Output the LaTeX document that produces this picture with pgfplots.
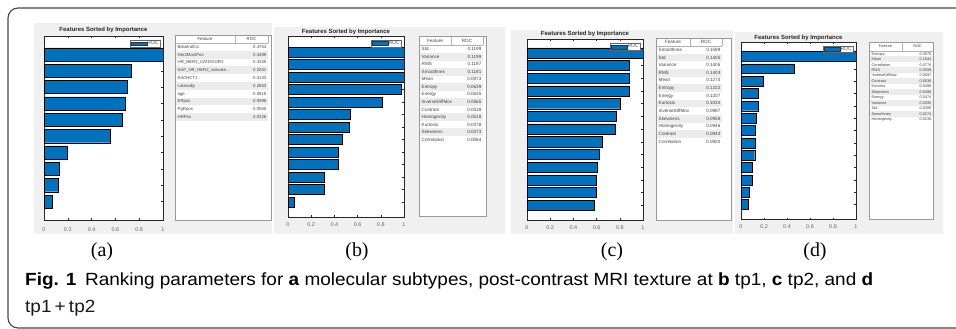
\documentclass[border=0pt]{standalone}
\usepackage{pgfplots}
\pgfplotsset{compat=1.18}
\usepackage{fontspec}
\setmainfont{Liberation Sans}
\newfontfamily\seriffont{Liberation Serif}
\definecolor{mblue}{RGB}{0,114,189}
\definecolor{bggrey}{RGB}{240,240,240}
\definecolor{rowgrey}{RGB}{236,236,236}
\definecolor{framec}{RGB}{70,70,70}
\newsavebox\capA
\newcommand\drawtable[1]{%
  \fill[white] (\tL,\tT) rectangle (\tR,\tB);
  \foreach \n/\v [count=\i] in {#1} {%
    \pgfmathsetmacro\yc{\rA+(\i-1)*\rS}
    \ifodd\i\else\fill[rowgrey] (\tL,\yc-\rS/2) rectangle (\tC,\yc+\rS/2);\fi
    \node[anchor=base west, inner sep=0, font=\tfont, text=black!75] at (\tL+2.5,\yc+1.4) {\n};
    \node[anchor=base east, inner sep=0, font=\tfont, text=black!75] at (\tC-1.5,\yc+1.4) {\v};
  }
  \draw[black!30, line width=0.4] (\tL,\tH) -- (\tC,\tH) (\tS,\tT) -- (\tS,\tH) (\tC,\tT) -- (\tC,\tH);
  \node[anchor=base, inner sep=0, font=\tfont, text=black!75] at ({(\tL+\tS)/2},{(\tT+\tH)/2+1.4}) {Feature};
  \node[anchor=base, inner sep=0, font=\tfont, text=black!75] at ({(\tS+\tC)/2},{(\tT+\tH)/2+1.4}) {ROC};
  \draw[black!40, line width=0.4] (\tL,\tT) rectangle (\tR,\tB);
}
\pgfplotsset{
  panel/.style={
    scale only axis, anchor=south west, xbar, y dir=reverse,
    xmin=0, xmax=1,
    xtick={0,0.2,0.4,0.6,0.8,1}, xticklabels={0,0.2,0.4,0.6,0.8,1},
    yticklabels={},
    tick align=inside, major tick length=1.8bp,
    axis line style={draw=black!85, line width=0.4bp},
    tick style={draw=black!85, line width=0.4bp},
    axis background/.style={fill=white},
    /pgf/number format/assume math mode=true,
    x tick label style={font=\fontsize{5.5}{6}\selectfont, text=black!60, yshift=-2bp},
    bar width=0.8,
    cycle list={{fill=mblue, draw=black!80, line width=0.35bp}},
    legend style={at={(0.975,0.978)}, anchor=north east, draw=black!60, fill=white,
      line width=0.35bp, inner xsep=0.8bp, inner ysep=0.3bp,
      font=\fontsize{5}{5}\selectfont, text=black!70,
      nodes={inner sep=0.5bp}},
    legend image code/.code={\draw[fill=mblue, draw=black!80, line width=0.3bp] (0bp,-1.8bp) rectangle (16bp,1.8bp);},
  }
}
\begin{document}
\sbox\capA{\fontsize{17.7}{20}\selectfont\textbf{Fig. 1}\hspace{0.45em}Ranking parameters for \textbf{a} molecular subtypes, post-contrast MRI texture at \textbf{b} tp1, \textbf{c} tp2, and \textbf{d}}%
\pgfmathsetmacro\capsc{851.2/\the\wd\capA}%
\begin{tikzpicture}
\path[use as bounding box] (0,0) rectangle (956bp,-329bp);
\begin{scope}[x=1bp,y=-1bp]
  \fill[bggrey] (34,23) rectangle (272,234);
  \fill[bggrey] (274,27) rectangle (505,234);
  \fill[bggrey] (511,30) rectangle (733,234);
  \fill[bggrey] (735,32) rectangle (943,234);
\end{scope}

% (a)
\begin{axis}[panel, at={(44bp,-220bp)}, width=119bp, height=184bp,
  ymin=-0.13, ymax=11.13, ytick={1,...,10},
  x tick label style={yshift=-2bp}]
\addplot coordinates {(1,1) (0.7360,2) (0.7015,3) (0.6840,4) (0.6590,5) (0.5581,6) (0.1925,7) (0.1254,8) (0.1157,9) (0.0686,10)};
\legend{ROC}
\end{axis}

% (b)
\begin{axis}[panel, at={(288bp,-217bp)}, width=116bp, height=181bp,
  ymin=-0.28, ymax=14.2, ytick={1,...,13}]
\addplot coordinates {(1,1) (1,2) (0.9983,3) (0.975,4) (0.8115,5) (0.5329,6) (0.5296,7) (0.4712,8) (0.4320,9) (0.4320,10) (0.3153,11) (0.3111,12) (0.0534,13)};
\legend{ROC}
\end{axis}

% (c)
\begin{axis}[panel, at={(527bp,-220bp)}, width=116bp, height=180.5bp,
  ymin=-0.05, ymax=14.16, ytick={1,...,13}]
\addplot coordinates {(1,1) (0.8842,2) (0.8842,3) (0.8829,4) (0.8018,5) (0.7690,6) (0.7596,7) (0.6507,8) (0.6212,9) (0.6029,10) (0.5953,11) (0.5934,12) (0.5790,13)};
\legend{ROC}
\end{axis}

% (d)
\begin{axis}[panel, at={(741bp,-219.5bp)}, width=115bp, height=177.8bp,
  ymin=-0.19, ymax=14.21, ytick={1,...,13}]
\addplot coordinates {(1,1) (0.4645,2) (0.1960,3) (0.1509,4) (0.1504,5) (0.1350,6) (0.1254,7) (0.1254,8) (0.1194,9) (0.0995,10) (0.0980,11) (0.0690,12) (0.0599,13)};
\legend{ROC}
\end{axis}

\begin{scope}[x=1bp,y=-1bp]
  % titles
  \foreach \xx/\yy in {103.5/29.5, 346/31.5, 585/33.3, 798.5/37.2}
    \node[anchor=base, inner sep=0, font=\bfseries\fontsize{6}{6}\selectfont, text=black!85] at (\xx,\yy+2.1) {Features Sorted by Importance};

  % table (a)
  \def\tL{175}\def\tS{235}\def\tC{268}\def\tR{271}\def\tT{35}\def\tB{220}\def\tH{43.2}\def\rA{47}\def\rS{7.78}
  \def\tfont{\fontsize{4.3}{4.5}\selectfont}
  \drawtable{BilateralCa/0.4754, Her2MostPos/0.3499, HR\_HER2\_CATEGORY/0.3335, {Ki67\_HR\_HER2\_subcate\ldots}/0.3251, Ki67HCT1/0.3133, Laterality/0.2653, age/0.0915, ERpos/0.0596, PgRpos/0.0550, HRPos/0.0326}

  % table (b)
  \def\tL{419}\def\tS{451}\def\tC{483}\def\tR{486}\def\tT{36}\def\tB{216.5}\def\tH{45.4}\def\rA{49.2}\def\rS{7.55}
  \def\tfont{\fontsize{4.6}{4.8}\selectfont}
  \drawtable{Std/0.1199, Variance/0.1199, RMS/0.1197, Smoothnes/0.1181, Mean/0.0973, Entropy/0.0639, Energy/0.0635, InverseDiffMov/0.0565, Contrast/0.0518, Homogenity/0.0518, Kurtosis/0.0378, Skewness/0.0373, Correlation/0.0064}

  % table (c)
  \def\tL{656}\def\tS{690}\def\tC{722}\def\tR{731}\def\tT{38.5}\def\tB{220}\def\tH{46.2}\def\rA{50}\def\rS{7.64}
  \def\tfont{\fontsize{4.6}{4.8}\selectfont}
  \drawtable{Smoothnes/0.1589, Std/0.1405, Variance/0.1405, RMS/0.1403, Mean/0.1274, Entropy/0.1222, Energy/0.1207, Kurtosis/0.1034, InverseDiffMov/0.0987, Skewness/0.0958, Homogenity/0.0946, Contrast/0.0943, Correlation/0.0920}

  % table (d)
  \def\tL{869}\def\tS{902}\def\tC{933}\def\tR{933}\def\tT{42}\def\tB{219}\def\tH{51}\def\rA{53.7}\def\rS{5.47}
  \def\tfont{\fontsize{3.8}{4}\selectfont}
  \drawtable{Entropy/0.3970, Mean/0.1844, Correlation/0.0778, RMS/0.0599, InverseDiffMov/0.0597, Contrast/0.0536, Kurtosis/0.0498, Skewness/0.0498, Energy/0.0474, Variance/0.0395, Std/0.0389, Smoothnes/0.0274, Homogenity/0.0238}

  % panel labels
  \foreach \xx/\lab in {102/(a), 357/(b), 612/(c), 815/(d)}
    \node[anchor=base, inner sep=0, font=\seriffont\fontsize{20}{22}\selectfont] at (\xx,256) {\lab};

  % caption
  \node[anchor=base west, inner sep=0, text=black!90] at (25,285) {\scalebox{\capsc}[1]{\usebox\capA}};
  \node[anchor=base west, inner sep=0, text=black!90] at (25,312) {\scalebox{\capsc}[1]{\fontsize{17.7}{20}\selectfont tp1\,+\,tp2}};

  % frame
  \draw[framec, line width=1.1, rounded corners=10] (975,8) -- (8,8) -- (8,328) -- (975,328);
\end{scope}
\end{tikzpicture}
\end{document}
